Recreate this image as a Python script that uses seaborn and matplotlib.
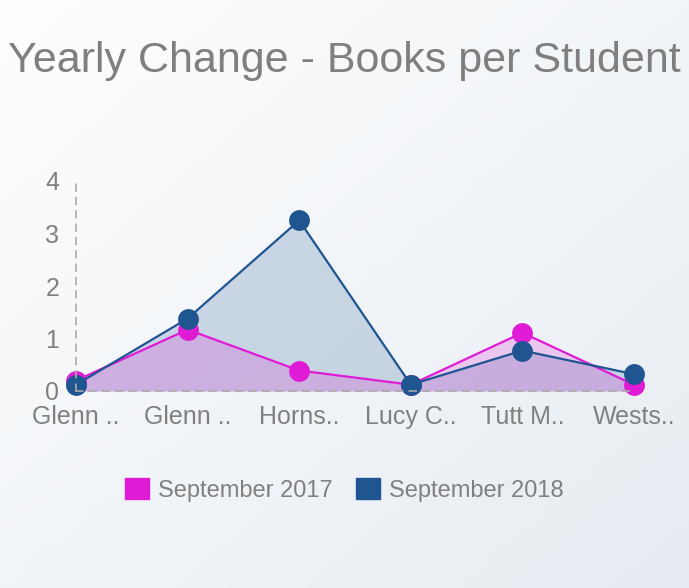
import numpy as np
import pandas as pd
import seaborn as sns
from matplotlib import pyplot as plt
from matplotlib.patches import Patch

schools = ['Glenn ..', 'Glenn ..', 'Horns..', 'Lucy C..', 'Tutt M..', 'Wests..']
sep_2017 = [0.2, 1.17, 0.39, 0.12, 1.11, 0.12]
sep_2018 = [0.12, 1.38, 3.25, 0.12, 0.77, 0.32]
series_names = ['September 2017', 'September 2018']
colors = ['#e01bd6', '#1f5591']

sns.set_style('white')
plt.rcParams['font.family'] = ['Liberation Sans', 'DejaVu Sans']

fig = plt.figure(figsize=(6.89, 5.88), dpi=100)

# background gradient
bg = fig.add_axes([0, 0, 1, 1], zorder=-1)
gx, gy = np.meshgrid(np.linspace(0, 1, 200), np.linspace(0, 1, 200))
g = (gx + gy) / 2
bg.imshow(g, cmap=plt.matplotlib.colors.LinearSegmentedColormap.from_list('bg', ['#fefefe', '#e6ecf2']),
          aspect='auto', extent=[0, 1, 0, 1], origin='upper')
bg.axis('off')

ax = fig.add_axes([76 / 689, 1 - 391 / 588, (634 - 76) / 689, (391 - 181) / 588])
ax.patch.set_alpha(0)

xs = np.arange(len(schools))
df = pd.DataFrame({'x': np.concatenate([xs, xs]),
                   'value': sep_2017 + sep_2018,
                   'series': [series_names[0]] * len(xs) + [series_names[1]] * len(xs)})

ax.fill_between(xs, sep_2018, color=colors[1], alpha=0.2, lw=0)
ax.fill_between(xs, sep_2017, color=colors[0], alpha=0.2, lw=0)
sns.lineplot(data=df, x='x', y='value', hue='series', palette=colors, marker='o',
             markersize=15, markeredgewidth=0, linewidth=1.6, legend=False, ax=ax,
             clip_on=False)

ax.set_xlim(0, 5)
ax.set_ylim(0, 4)
ax.set_xticks(xs)
ax.set_xticklabels(schools)
ax.set_yticks([0, 1, 2, 3, 4])
ax.set_xlabel('')
ax.set_ylabel('')
ax.tick_params(axis='both', length=0, labelsize=18, labelcolor='#808080')
ax.tick_params(axis='y', pad=12)
ax.tick_params(axis='x', pad=10)
for side in ['top', 'right']:
    ax.spines[side].set_visible(False)
for side in ['left', 'bottom']:
    ax.spines[side].set_linestyle((0, (4, 4)))
    ax.spines[side].set_color('#aaaaaa')
    ax.spines[side].set_linewidth(1.2)

fig.text(8 / 689, 1 - 72 / 588, 'Yearly Change - Books per Student', fontsize=31,
         color='#7f7f7f', va='baseline', ha='left')

handles = [Patch(facecolor=c, edgecolor=c) for c in colors]
fig.legend(handles, series_names, loc='center', bbox_to_anchor=(0.5, 1 - 490 / 588), ncol=2,
           frameon=False, fontsize=17, labelcolor='#808080', handlelength=1.0,
           handleheight=1.0, handletextpad=0.4, columnspacing=1.0)

fig.savefig('out.png', dpi=100)
